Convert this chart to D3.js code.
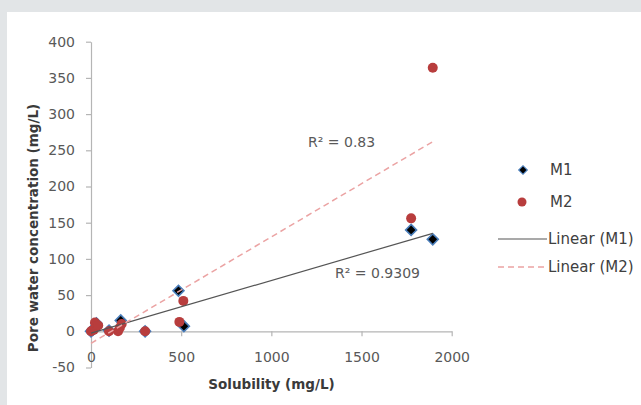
<!DOCTYPE html>
<html>
<head>
<meta charset="utf-8">
<script src="https://cdn.jsdelivr.net/npm/d3@7"></script>
<style>
  html, body { margin: 0; padding: 0; background: #e2e5e7; }
  svg { display: block; }
</style>
</head>
<body>
<svg id="chart" width="641" height="405"></svg>
<script>
// ---- Data ----
const m1X = [0, 10, 30, 100, 165, 300, 485, 515, 1775, 1895];
const m1Y = [0, 2, 11, 1, 15, 0, 56, 7, 140, 127];
const m2X = [0, 15, 22, 40, 100, 150, 160, 170, 300, 490, 512, 1775, 1895];
const m2Y = [0, 2, 12, 8, 0, 0, 5, 10, 0, 13, 42, 156, 364];
const xTicks = [0, 500, 1000, 1500, 2000];
const yTicks = [-50, 0, 50, 100, 150, 200, 250, 300, 350, 400];
const seriesNames = ["M1", "M2"];
const trendNames = ["Linear (M1)", "Linear (M2)"];
const r2Labels = ["R\u00B2 = 0.9309", "R\u00B2 = 0.83"];
const xTitle = "Solubility (mg/L)";
const yTitle = "Pore water concentration (mg/L)";

const FONT = "'DejaVu Sans', sans-serif";
const svg = d3.select("#chart");

// background
svg.append("rect").attr("x", 0).attr("y", 0).attr("width", 641).attr("height", 405).attr("fill", "#e2e5e7");
svg.append("rect").attr("x", 7).attr("y", 12).attr("width", 634).attr("height", 393).attr("fill", "#ffffff");

const x = d3.scaleLinear().domain([0, 2000]).range([91, 451.7]);
const y = d3.scaleLinear().domain([-50, 400]).range([367.5, 41.7]);

// axes
const fmt = d => String(d);
const yAxis = d3.axisLeft(y).tickValues(yTicks).tickFormat(fmt).tickSize(5).tickSizeOuter(0).tickPadding(11);
const gy = svg.append("g").attr("transform", `translate(${x(0)},0)`).call(yAxis);
const xAxis = d3.axisBottom(x).tickValues(xTicks).tickFormat(fmt).tickSize(5).tickSizeOuter(0).tickPadding(15.5);
const gx = svg.append("g").attr("transform", `translate(0,${y(0)})`).call(xAxis);
[gx, gy].forEach(g => {
  g.select(".domain").attr("stroke", "#b5b5b5").attr("stroke-width", 1.2);
  g.selectAll(".tick line").attr("stroke", "#b5b5b5").attr("stroke-width", 1.2);
  g.selectAll(".tick text").attr("fill", "#595959").style("font-family", FONT).style("font-size", "14px");
});

// regression
function linreg(xs, ys) {
  const n = xs.length;
  const mx = d3.mean(xs), my = d3.mean(ys);
  let sxy = 0, sxx = 0;
  for (let i = 0; i < n; i++) { sxy += (xs[i] - mx) * (ys[i] - my); sxx += (xs[i] - mx) ** 2; }
  const b = sxy / sxx;
  return { b, a: my - b * mx };
}
const t1 = linreg(m1X, m1Y), t2 = linreg(m2X, m2Y);
const line = d3.line().x(d => x(d[0])).y(d => y(d[1]));

// markers
const diamond = d3.symbol().type(d3.symbolSquare).size(60);
const m1 = m1X.map((v, i) => [v, m1Y[i]]);
const m2 = m2X.map((v, i) => [v, m2Y[i]]);

svg.append("g").selectAll("path").data(m1).join("path")
  .attr("d", diamond)
  .attr("transform", d => `translate(${x(d[0])},${y(d[1])}) rotate(45)`)
  .attr("fill", "#000000").attr("stroke", "#4a7ebb").attr("stroke-width", 1.6);

svg.append("g").selectAll("circle").data(m2).join("circle")
  .attr("cx", d => x(d[0])).attr("cy", d => y(d[1])).attr("r", 5)
  .attr("fill", "#b83d3d");

// trendlines
const e1 = d3.extent(m1X), e2 = d3.extent(m2X);
svg.append("path").datum([[e1[0], t1.a + t1.b * e1[0]], [e1[1], t1.a + t1.b * e1[1]]])
  .attr("d", line).attr("fill", "none").attr("stroke", "#555555").attr("stroke-width", 1.2);
svg.append("path").datum([[e2[0], t2.a + t2.b * e2[0]], [e2[1], t2.a + t2.b * e2[1]]])
  .attr("d", line).attr("fill", "none").attr("stroke", "#eba3a3").attr("stroke-width", 1.5)
  .attr("stroke-dasharray", "6,4");

// R² labels
svg.append("text").attr("x", 335).attr("y", 273).attr("dy", "0.35em")
  .attr("fill", "#595959").style("font-family", FONT).style("font-size", "14px").text(r2Labels[0]);
svg.append("text").attr("x", 308).attr("y", 142).attr("dy", "0.35em")
  .attr("fill", "#595959").style("font-family", FONT).style("font-size", "14px").text(r2Labels[1]);

// axis titles
svg.append("text").attr("x", 271.5).attr("y", 384).attr("dy", "0.35em").attr("text-anchor", "middle")
  .attr("fill", "#3a3a3a").style("font-family", FONT).style("font-size", "13.5px").style("font-weight", "bold")
  .text(xTitle);
svg.append("text").attr("transform", "translate(33,228) rotate(-90)").attr("dy", "0.35em").attr("text-anchor", "middle")
  .attr("fill", "#3a3a3a").style("font-family", FONT).style("font-size", "13.5px").style("font-weight", "bold")
  .text(yTitle);

// legend
const lg = svg.append("g");
const legFont = "15px";
lg.append("path").attr("d", d3.symbol().type(d3.symbolSquare).size(36))
  .attr("transform", "translate(523,170) rotate(45)").attr("fill", "#000").attr("stroke", "#4a7ebb").attr("stroke-width", 1.2);
lg.append("text").attr("x", 550).attr("y", 170).attr("dy", "0.35em").text(seriesNames[0]);
lg.append("circle").attr("cx", 522).attr("cy", 202).attr("r", 4.5).attr("fill", "#b83d3d");
lg.append("text").attr("x", 550).attr("y", 202).attr("dy", "0.35em").text(seriesNames[1]);
lg.append("line").attr("x1", 498).attr("x2", 547).attr("y1", 239).attr("y2", 239)
  .attr("stroke", "#555555").attr("stroke-width", 1.2);
lg.append("text").attr("x", 548).attr("y", 239).attr("dy", "0.35em").text(trendNames[0]);
lg.append("line").attr("x1", 498).attr("x2", 547).attr("y1", 267).attr("y2", 267)
  .attr("stroke", "#eba3a3").attr("stroke-width", 1.5).attr("stroke-dasharray", "6,4");
lg.append("text").attr("x", 548).attr("y", 267).attr("dy", "0.35em").text(trendNames[1]);
lg.selectAll("text").attr("fill", "#404040").style("font-family", FONT).style("font-size", legFont);
</script>
</body>
</html>
